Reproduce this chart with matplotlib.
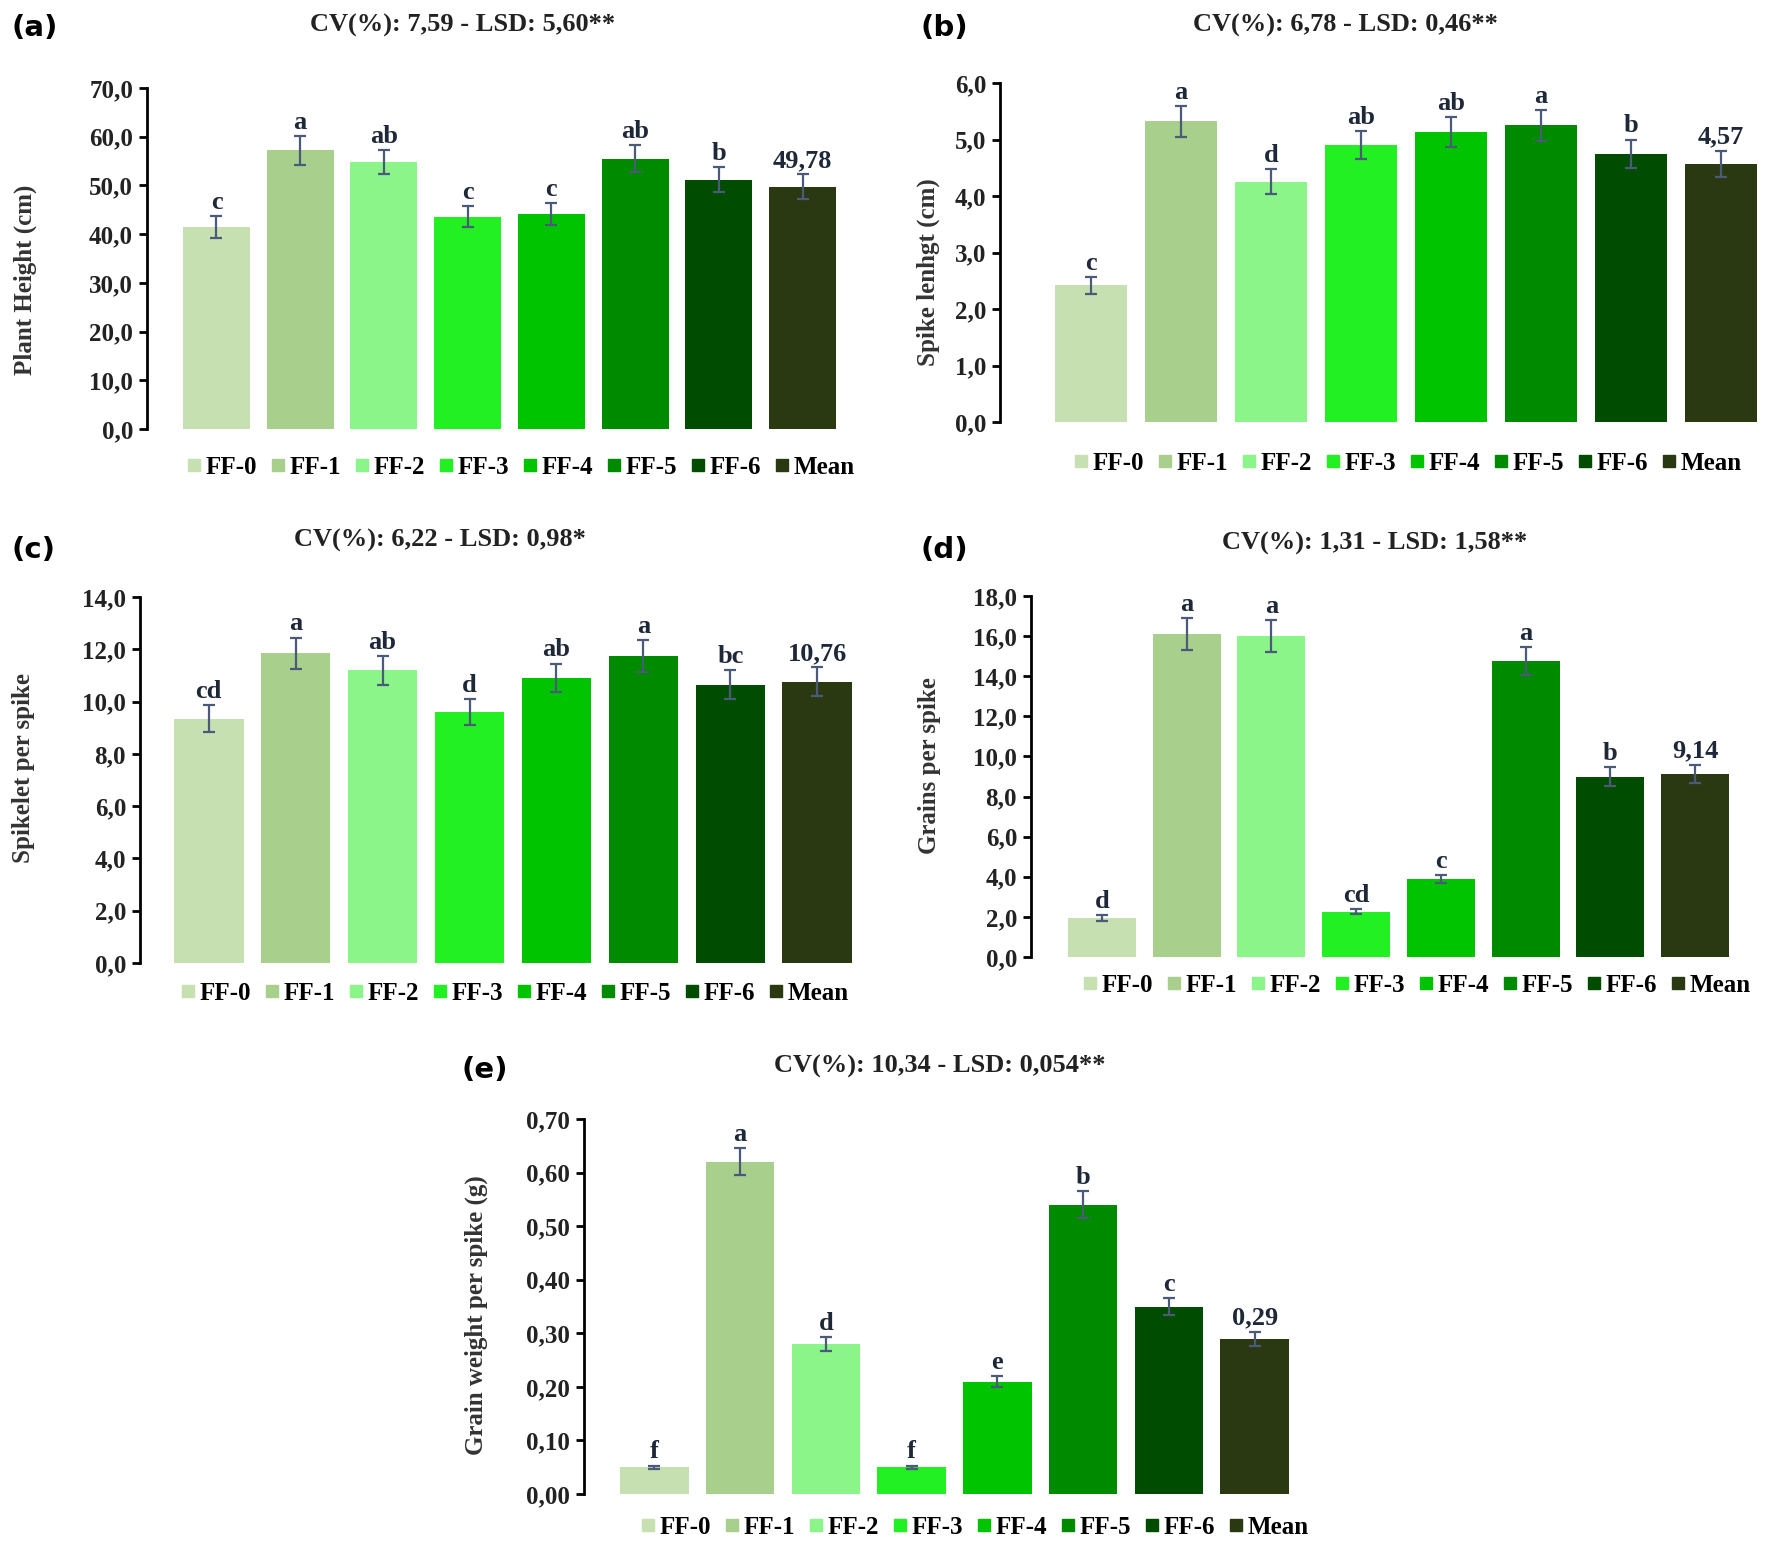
import matplotlib
matplotlib.use("Agg")
import matplotlib.pyplot as plt
from matplotlib.lines import Line2D

# treatments and colours
labels = ['FF-0', 'FF-1', 'FF-2', 'FF-3', 'FF-4', 'FF-5', 'FF-6', 'Mean']
colors = ['#c6e0b2', '#a8cf8c', '#8cf58a', '#22f022', '#00c400', '#008a00',
          '#004c00', '#2a3912']

# (a) plant height
height_vals = [41.5, 57.2, 54.8, 43.6, 44.1, 55.5, 51.2, 49.78]
height_err = [2.2, 3.0, 2.5, 2.2, 2.3, 2.8, 2.5, 2.5]
height_let = ['c', 'a', 'ab', 'c', 'c', 'ab', 'b', '49,78']

# (b) spike length
spike_vals = [2.42, 5.32, 4.25, 4.90, 5.13, 5.25, 4.75, 4.57]
spike_err = [0.15, 0.28, 0.22, 0.25, 0.27, 0.27, 0.25, 0.23]
spike_let = ['c', 'a', 'd', 'ab', 'ab', 'a', 'b', '4,57']

# (c) spikelet per spike
spikelet_vals = [9.35, 11.85, 11.2, 9.6, 10.9, 11.75, 10.65, 10.76]
spikelet_err = [0.5, 0.6, 0.55, 0.5, 0.55, 0.6, 0.55, 0.55]
spikelet_let = ['cd', 'a', 'ab', 'd', 'ab', 'a', 'bc', '10,76']

# (d) grains per spike
grains_vals = [1.95, 16.1, 16.0, 2.25, 3.9, 14.75, 9.0, 9.14]
grains_err = [0.15, 0.8, 0.8, 0.12, 0.2, 0.7, 0.45, 0.45]
grains_let = ['d', 'a', 'a', 'cd', 'c', 'a', 'b', '9,14']

# (e) grain weight per spike
weight_vals = [0.05, 0.62, 0.28, 0.05, 0.21, 0.54, 0.35, 0.29]
weight_err = [0.003, 0.025, 0.013, 0.003, 0.010, 0.025, 0.015, 0.013]
weight_let = ['f', 'a', 'd', 'f', 'e', 'b', 'c', '0,29']

W, H = 1772, 1548
fig = plt.figure(figsize=(W / 100, H / 100), dpi=100)
serif = 'Liberation Serif'


def panel(tag, title, ylabel, vals, err, lets, ymax, step, dec,
          axis_x, bar0, bar1, ytop, ybot, title_xy, tag_xy, ylab_xy, leg_xy):
    u = (bar1 - bar0) / 7.8
    xl = -0.4 - (bar0 - axis_x) / u
    xr = 7.45
    width_px = (xr - xl) * u
    ax = fig.add_axes([axis_x / W, 1 - ybot / H, width_px / W, (ybot - ytop) / H])
    x = list(range(len(vals)))
    ax.bar(x, vals, width=0.8, color=colors)
    ax.errorbar(x, vals, yerr=err, fmt='none', ecolor='#4a5a78',
                elinewidth=1.6, capsize=4, capthick=1.6)
    for xi, v, e, t in zip(x, vals, err, lets):
        ax.text(xi, v + e + ymax * 0.006, t, ha='center', va='bottom',
                fontsize=19, fontweight='bold', family=serif, color='#1e2838')
    ax.set_xlim(xl, xr)
    ax.set_ylim(0, ymax)
    ticks = [i * step for i in range(int(round(ymax / step)) + 1)]
    ax.set_yticks(ticks)
    ax.set_yticklabels([f'{t:.{dec}f}'.replace('.', ',') for t in ticks],
                       fontsize=18, fontweight='bold', family=serif, color='#222222')
    ax.set_xticks([])
    for s in ['top', 'right', 'bottom']:
        ax.spines[s].set_visible(False)
    ax.spines['left'].set_linewidth(2)
    ax.tick_params(axis='y', length=6, width=2, pad=4)
    fig.text(title_xy[0] / W, 1 - title_xy[1] / H, title, ha='center', va='center',
             fontsize=19, fontweight='bold', family=serif, color='#222222')
    fig.text(tag_xy[0] / W, 1 - tag_xy[1] / H, tag, ha='left', va='center',
             fontsize=21, fontweight='bold', family='DejaVu Sans')
    fig.text(ylab_xy[0] / W, 1 - ylab_xy[1] / H, ylabel, ha='center', va='center',
             rotation=90, fontsize=18, fontweight='bold', family=serif, color='#333333')
    handles = [Line2D([], [], marker='s', linestyle='none', markersize=9,
                      markerfacecolor=c, markeredgecolor=c) for c in colors]
    fig.legend(handles, labels, loc='center', ncol=8, frameon=False,
               bbox_to_anchor=(leg_xy[0] / W, 1 - leg_xy[1] / H),
               handlelength=0.5, handletextpad=0.2, columnspacing=0.6,
               prop={'family': serif, 'weight': 'bold', 'size': 18})


panel('(a)', 'CV(%): 7,59 - LSD: 5,60**', 'Plant Height (cm)',
      height_vals, height_err, height_let, 70, 10, 1,
      147, 183, 836, 88, 429, (463, 25), (12, 28), (25, 280), (521, 467))
panel('(b)', 'CV(%): 6,78 - LSD: 0,46**', 'Spike lenhgt (cm)',
      spike_vals, spike_err, spike_let, 6, 1, 1,
      1000, 1055, 1757, 83, 422, (1345, 25), (920, 28), (928, 272), (1408, 463))
panel('(c)', 'CV(%): 6,22 - LSD: 0,98*', 'Spikelet per spike',
      spikelet_vals, spikelet_err, spikelet_let, 14, 2, 1,
      140, 174, 852, 597, 963, (440, 540), (12, 550), (24, 768), (515, 993))
panel('(d)', 'CV(%): 1,31 - LSD: 1,58**', 'Grains per spike',
      grains_vals, grains_err, grains_let, 18, 2, 1,
      1031, 1068, 1729, 596, 957, (1375, 543), (920, 550), (930, 766), (1417, 985))
panel('(e)', 'CV(%): 10,34 - LSD: 0,054**', 'Grain weight per spike (g)',
      weight_vals, weight_err, weight_let, 0.70, 0.10, 2,
      584, 620, 1289, 1119, 1494, (940, 1066), (462, 1070), (476, 1315), (975, 1527))

fig.savefig('out.png', dpi=100)
